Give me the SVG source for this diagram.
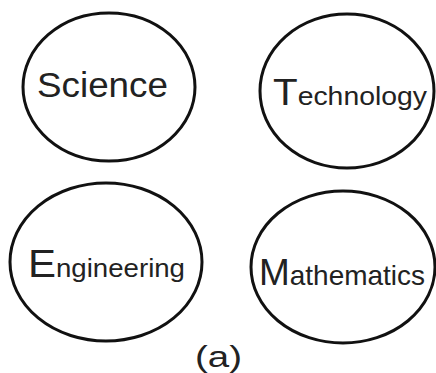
<svg xmlns="http://www.w3.org/2000/svg" width="436" height="373" viewBox="0 0 436 373">
<style>
.n{fill:#fff;stroke:#111;stroke-width:3}
.t{font-family:"Liberation Sans",Arial,sans-serif;fill:#222}
</style>
<rect width="436" height="373" fill="#fff"/>
<g id="connectors"></g>
<g id="science">
<ellipse class="n" cx="109" cy="87" rx="86" ry="74"/>
<text class="t" x="37" y="97" font-size="35" textLength="131" lengthAdjust="spacingAndGlyphs">Science</text>
</g>
<g id="technology">
<ellipse class="n" cx="347" cy="91" rx="87" ry="77"/>
<text class="t" x="273" y="105" textLength="154" lengthAdjust="spacingAndGlyphs"><tspan font-size="37">T</tspan><tspan font-size="26">echnology</tspan></text>
</g>
<g id="engineering">
<ellipse class="n" cx="106" cy="262" rx="96" ry="79"/>
<text class="t" x="28" y="277" textLength="157" lengthAdjust="spacingAndGlyphs"><tspan font-size="38">E</tspan><tspan font-size="25">ngineering</tspan></text>
</g>
<g id="mathematics">
<ellipse class="n" cx="343" cy="267" rx="92" ry="76"/>
<text class="t" x="259" y="285" textLength="166" lengthAdjust="spacingAndGlyphs"><tspan font-size="37">M</tspan><tspan font-size="28">athematics</tspan></text>
</g>
<text class="t" x="195" y="367" font-size="30" textLength="47" lengthAdjust="spacingAndGlyphs">(a)</text>
</svg>
